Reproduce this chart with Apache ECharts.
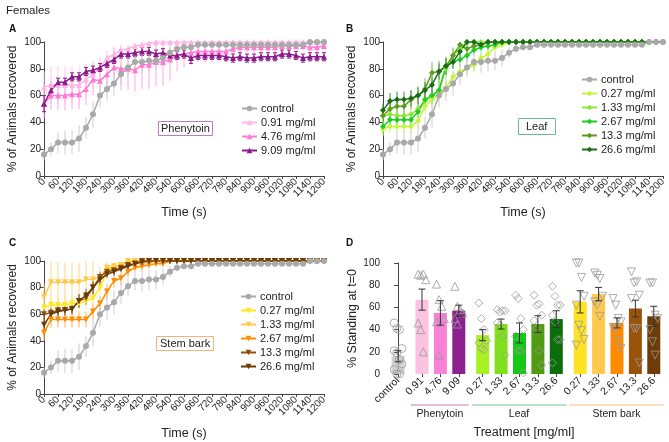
<!DOCTYPE html>
<html><head><meta charset="utf-8">
<script src="https://cdn.jsdelivr.net/npm/echarts@6/dist/echarts.min.js"></script>
<style>html,body{margin:0;padding:0;background:#fff}#c{width:669px;height:442px}</style>
</head><body><div id="c"></div>
<script>
// ---------- DATA ----------
const times = [0,30,60,90,120,150,180,210,240,270,300,330,360,390,420,450,480,510,540,570,600,630,660,690,720,750,780,810,840,870,900,930,960,990,1020,1050,1080,1110,1140,1170,1200];

const ctrlMean = [16,20,25,25,25,28,36,46,60,65,69,76,81,85,85,86,86,88,92,95,96,96,98,98,98,98,98,98,98,98,98,98,98,98,98,98,98,98,100,100,100];
const ctrlErr  = [4,5,8,9,9,10,8,10,9,9,9,8,7,7,8,8,7,6,4,3,2,2,1,1,1,1,1,1,1,1,1,1,1,1,1,1,1,1,0,0,0];

const phen091 = [66,68,68,68,68,68,72,76,81,88,91,94,95,97,98,99,100,100,100,100,100,100,100,100,100,100,100,100,100,100,100,100,100,100,100,100,100,100,100,100,100];
const phen091Err = [12,14,14,14,14,14,12,10,8,6,5,4,3,2,2,1,0,0,0,0,0,0,0,0,0,0,0,0,0,0,0,0,0,0,0,0,0,0,0,0,0];
const phen476 = [54,60,60,60,61,61,65,72,71,76,81,80,80,79,83,83,85,85,87,90,91,92,93,93,93,93,93,95,96,96,96,96,96,96,97,97,97,97,96,96,97];
const phen476Err = [11,11,11,11,11,11,12,12,12,14,15,16,16,16,18,18,18,18,16,12,10,9,8,8,8,7,7,5,4,4,4,4,4,4,3,3,3,3,4,4,3];
const phen909 = [54,64,70,70,74,74,78,79,81,84,87,91,91,92,93,93,91,92,90,90,91,88,90,90,90,90,89,88,89,88,88,89,89,89,91,91,90,88,89,89,89];
const phen909Err = [6,4,3,3,3,3,3,3,3,3,3,3,3,3,3,3,3,3,3,3,3,4,3,3,3,3,3,3,3,3,3,3,3,3,3,3,3,3,3,3,3];

const leaf027 = [35,37,37,37,37,41,52,57,61,66,74,78,80,83,88,91,96,98,100,100,100,100,100,100,100,100,100,100,100,100,100,100,100,100,100,100,100,100,100,100,100];
const leaf027Err = [5,5,5,5,5,5,6,6,6,6,5,5,5,5,4,4,3,2,0,0,0,0,0,0,0,0,0,0,0,0,0,0,0,0,0,0,0,0,0,0,0];
const leaf133 = [45,46,45,45,46,50,56,60,64,80,90,95,100,100,100,100,100,100,100,100,100,100,100,100,100,100,100,100,100,100,100,100,100,100,100,100,100,100,100,100,100];
const leaf133Err = [6,6,6,6,6,6,7,7,7,7,5,4,0,0,0,0,0,0,0,0,0,0,0,0,0,0,0,0,0,0,0,0,0,0,0,0,0,0,0,0,0];
const leaf267 = [37,42,42,42,42,48,57,60,64,82,85,87,90,94,96,97,98,100,100,100,100,100,100,100,100,100,100,100,100,100,100,100,100,100,100,100,100,100,100,100,100];
const leaf267Err = [5,5,5,5,5,5,6,6,6,6,5,5,5,4,3,3,2,0,0,0,0,0,0,0,0,0,0,0,0,0,0,0,0,0,0,0,0,0,0,0,0];
const leaf13 = [45,50,52,52,57,60,65,77,78,82,90,98,95,97,98,100,100,100,100,100,100,100,100,100,100,100,100,100,100,100,100,100,100,100,100,100,100,100,100,100,100];
const leaf13Err = [6,7,7,7,7,7,8,8,8,7,6,2,4,3,2,0,0,0,0,0,0,0,0,0,0,0,0,0,0,0,0,0,0,0,0,0,0,0,0,0,0];
const leaf266 = [49,56,57,57,58,60,64,68,78,82,85,93,100,100,98,100,100,100,100,100,100,100,100,100,100,100,100,100,100,100,100,100,100,100,100,100,100,100,100,100,100];
const leaf266Err = [5,6,6,6,6,6,6,6,6,6,5,4,0,0,2,0,0,0,0,0,0,0,0,0,0,0,0,0,0,0,0,0,0,0,0,0,0,0,0,0,0];

const stem027 = [65,67,67,67,68,68,70,72,80,93,95,97,100,100,100,100,100,100,100,100,100,100,100,100,100,100,100,100,100,100,100,100,100,100,100,100,100,100,100,100,100];
const stem027Err = [6,6,6,6,6,6,6,6,6,4,3,2,0,0,0,0,0,0,0,0,0,0,0,0,0,0,0,0,0,0,0,0,0,0,0,0,0,0,0,0,0];
const stem133 = [73,84,84,84,84,84,86,86,88,95,96,97,100,100,100,100,100,100,100,100,100,100,100,100,100,100,100,100,100,100,100,100,100,100,100,100,100,100,100,100,100];
const stem133Err = [10,15,15,15,15,15,14,14,8,4,3,3,0,0,0,0,0,0,0,0,0,0,0,0,0,0,0,0,0,0,0,0,0,0,0,0,0,0,0,0,0];
const stem267 = [46,56,56,56,56,56,56,62,68,77,85,87,92,95,96,97,98,98,100,100,100,100,100,100,100,100,100,100,100,100,100,100,100,100,100,100,100,100,100,100,100];
const stem267Err = [6,6,6,6,6,6,6,6,6,6,5,5,4,3,3,2,2,2,0,0,0,0,0,0,0,0,0,0,0,0,0,0,0,0,0,0,0,0,0,0,0];
const stem13 = [60,61,63,63,64,70,72,80,88,92,93,95,97,98,100,100,100,100,100,100,100,100,100,100,100,100,100,100,100,100,100,100,100,100,100,100,100,100,100,100,100];
const stem13Err = [5,4,4,4,4,5,5,5,4,3,3,2,2,2,0,0,0,0,0,0,0,0,0,0,0,0,0,0,0,0,0,0,0,0,0,0,0,0,0,0,0];
const stem266 = [52,60,62,63,64,70,74,80,86,90,92,94,96,98,99,100,100,100,100,100,100,100,100,100,100,100,100,100,100,100,100,100,100,100,100,100,100,100,100,100,100];
const stem266Err = [5,4,4,4,4,5,5,5,4,3,3,2,2,2,1,0,0,0,0,0,0,0,0,0,0,0,0,0,0,0,0,0,0,0,0,0,0,0,0,0,0];

// Panel D
const dLabels = ['control','0.91','4.76','9.09','0.27','1.33','2.67','13.3','26.6','0.27','1.33','2.67','13.3','26.6'];
const dGroup  = [0,1,1,1,2,2,2,2,2,3,3,3,3,3];
const dMean   = [16,67,55,57,35,45,37,45,49.5,65,72,46,59,52];
const dSem    = [5,9.5,11,5,5,4.5,9,7.5,7.5,10,6,4.5,7.5,9];
const dPoints = [
  [46,41,40,23,21,19,13,9,4,0,0],
  [90,89,90,85,46,40,20],
  [81,67,61,50,47,17],
  [79,61,58,55,50,45],
  [64,50,40,30,28,23,22],
  [58,56,57,57,46,44,34,17],
  [71,68,50,40,34,21,21,1],
  [71,62,63,53,48,41,21,8],
  [79,70,62,62,53,47,31,31,10],
  [100,100,87,70,62,44,39,31,26],
  [91,89,86,70,65,62,52],
  [68,62,50,47,42,40,30,23],
  [92,82,83,71,68,41,41,10],
  [82,82,53,50,40,29,17]
];
const groupNames = ['Phenytoin','Leaf','Stem bark'];

// ---------- STYLE ----------
const FONT = 'Liberation Sans, Arial, Helvetica, sans-serif';
const dColors = ['#c9c9c9','#fbc2e1','#f981d6','#8e1f8e','#a8f024','#80e01c','#16c816','#4f9b12','#0b6e0b','#ffe224','#ffca4e','#ff8c00','#9b530c','#6f3b07'];
const groupColors = ['#c77ac7','#73c596','#f5c08a'];
const dSymbols = ['circle','triangle','diamond','triangle'];
const dRot = [0,0,0,180];

const chart = echarts.init(document.getElementById('c'), null, {renderer:'canvas'});

function errData(m, e){ return times.map((t,i)=>[t, Math.max(0,m[i]-e[i]), Math.min(100,m[i]+e[i])]); }
function errRender(color, cap){
  return function(params, api){
    const lo = api.coord([api.value(0), api.value(1)]);
    const hi = api.coord([api.value(0), api.value(2)]);
    if (Math.abs(hi[1]-lo[1]) < 0.5) return null;
    const st = {stroke: color, lineWidth: 1};
    const ch = [{type:'line', shape:{x1:lo[0],y1:lo[1],x2:hi[0],y2:hi[1]}, style:st}];
    if (cap) {
      ch.push({type:'line', shape:{x1:lo[0]-cap,y1:lo[1],x2:lo[0]+cap,y2:lo[1]}, style:st});
      ch.push({type:'line', shape:{x1:hi[0]-cap,y1:hi[1],x2:hi[0]+cap,y2:hi[1]}, style:st});
    }
    return {type:'group', children:ch};
  };
}

const series = [];
function addLine(panel, name, mean, err, color, errColor, symbol, rot, cap){
  series.push({type:'custom', xAxisIndex:panel, yAxisIndex:panel, renderItem: errRender(errColor, cap),
    data: errData(mean, err), encode:{x:0,y:[1,2]}, silent:true, z:1});
  series.push({type:'line', name: name, xAxisIndex:panel, yAxisIndex:panel,
    data: times.map((t,i)=>[t, mean[i]]), symbol: symbol, symbolRotate: rot, symbolSize: 6,
    lineStyle:{color:color, width:1.5}, itemStyle:{color:color}, z:3, animation:false});
}
const ctrlColor = '#a9a9a9', ctrlErrColor = '#cdcdcd';
// A
addLine(0,'A|0.91 mg/ml', phen091, phen091Err, '#ffb5e6', '#ffc9ee','triangle',0,0);
addLine(0,'A|4.76 mg/ml', phen476, phen476Err, '#ff7ad3', '#ffa6e2','triangle',0,0);
addLine(0,'A|9.09 mg/ml', phen909, phen909Err, '#8c1a8c', '#8c1a8c','triangle',0,2);
addLine(0,'A|control', ctrlMean, ctrlErr, ctrlColor, ctrlErrColor,'circle',0,0);
// B
addLine(1,'B|0.27 mg/ml', leaf027, leaf027Err, '#c4f53a', '#d6f77a','diamond',0,0);
addLine(1,'B|1.33 mg/ml', leaf133, leaf133Err, '#8fe53a', '#acec74','diamond',0,0);
addLine(1,'B|2.67 mg/ml', leaf267, leaf267Err, '#1fcc1f', '#5fdc5f','diamond',0,0);
addLine(1,'B|13.3 mg/ml', leaf13, leaf13Err, '#5a9f1c', '#80b850','diamond',0,0);
addLine(1,'B|26.6 mg/ml', leaf266, leaf266Err, '#1a6e1a', '#3f8a3f','diamond',0,0);
addLine(1,'B|control', ctrlMean, ctrlErr, ctrlColor, ctrlErrColor,'circle',0,0);
// C
addLine(2,'C|0.27 mg/ml', stem027, stem027Err, '#ffe61e', '#fff07a','triangle',180,0);
addLine(2,'C|1.33 mg/ml', stem133, stem133Err, '#ffc94a', '#ffd77e','triangle',180,0);
addLine(2,'C|2.67 mg/ml', stem267, stem267Err, '#ff8c00', '#ffb055','triangle',180,0);
addLine(2,'C|13.3 mg/ml', stem13, stem13Err, '#8f4e0c', '#a87440','triangle',180,0);
addLine(2,'C|26.6 mg/ml', stem266, stem266Err, '#6b3a06', '#8a6038','triangle',180,0);
addLine(2,'C|control', ctrlMean, ctrlErr, ctrlColor, ctrlErrColor,'circle',0,0);

// D
const GAP = 0.3;
const dPos = dLabels.map((l,i)=> +(i + GAP*dGroup[i]).toFixed(3));
series.push({type:'bar', xAxisIndex:3, yAxisIndex:3, barWidth:13,
  data: dMean.map((v,i)=>({value:[dPos[i], v], itemStyle:{color:dColors[i], opacity: i===0?0.85:1}})), z:2, animation:false});
series.push({type:'custom', xAxisIndex:3, yAxisIndex:3, z:5, silent:true,
  renderItem: errRender('#333', 3.5), encode:{x:0,y:[1,2]},
  data: dMean.map((v,i)=>[dPos[i], v-dSem[i], v+dSem[i]])});
dPoints.forEach((pts,i)=>{
  const g = dGroup[i];
  series.push({type:'scatter', xAxisIndex:3, yAxisIndex:3, z:4, symbol: dSymbols[g], symbolRotate: dRot[g],
    symbolSize: 8,
    itemStyle:{color:'rgba(255,255,255,0)', borderColor:'#9a9a9a', borderWidth:1},
    data: pts.map((v,j)=>[dPos[i] + ((j%4)-1.5)*0.14, v]), animation:false});
});

const axisLineStyle = {lineStyle:{color:'#444', width:1}};
function lineX(i){
  return {type:'value', gridIndex:i, min:0, max:1200, interval:60, name:'Time (s)', nameLocation:'middle',
    nameGap: i===2?33:30, nameTextStyle:{fontSize:12.5, color:'#222', fontFamily:FONT},
    axisLine:{show:true, ...axisLineStyle}, axisTick:{show:true, length:3, lineStyle:{color:'#444'}},
    axisLabel:{rotate:45, fontSize:10, color:'#222', margin:4, fontFamily:FONT, formatter: v => String(v)}, splitLine:{show:false}};
}
function lineY(i){
  return {type:'value', gridIndex:i, min:0, max:100, interval:20, name:'% of Animals recovered', nameLocation:'middle',
    nameGap:25, nameTextStyle:{fontSize:12, color:'#222', fontFamily:FONT},
    axisLine:{show:true, ...axisLineStyle}, axisTick:{show:true, length:4, lineStyle:{color:'#444'}},
    axisLabel:{fontSize:10, color:'#222', margin:3, fontFamily:FONT}, splitLine:{show:false}};
}

function legendFor(panel, left, top, names){
  return {left:left, top:top, orient:'vertical', itemWidth:15, itemHeight:7, itemGap:3,
    data: names.map(n=>panel+'|'+n), formatter: n=>n.split('|')[1],
    textStyle:{fontSize:11, color:'#222', fontFamily:FONT, padding:[0,0,0,-1]}, selectedMode:false};
}

const option = {
  animation:false,
  textStyle:{fontFamily:FONT},
  title:[
    {text:'Females', left:1, top:0, textStyle:{fontSize:11.5, fontWeight:'normal', color:'#222', fontFamily:FONT}},
    {text:'A', left:4, top:19, textStyle:{fontSize:10, fontWeight:'bold', color:'#111', fontFamily:FONT}},
    {text:'B', left:341, top:19, textStyle:{fontSize:10, fontWeight:'bold', color:'#111', fontFamily:FONT}},
    {text:'C', left:4, top:233, textStyle:{fontSize:10, fontWeight:'bold', color:'#111', fontFamily:FONT}},
    {text:'D', left:341, top:233, textStyle:{fontSize:10, fontWeight:'bold', color:'#111', fontFamily:FONT}},
    {text:'Phenytoin', left:158, top:121, padding:[2,3], borderColor:'#c07ac0', borderWidth:1, textStyle:{fontSize:11, fontWeight:'normal', color:'#222', fontFamily:FONT}},
    {text:'Leaf', left:518, top:118, padding:[3,8], borderColor:'#68bd8c', borderWidth:1, textStyle:{fontSize:11, fontWeight:'normal', color:'#222', fontFamily:FONT}},
    {text:'Stem bark', left:156, top:336, padding:[2,4], borderColor:'#f2b478', borderWidth:1, textStyle:{fontSize:11, fontWeight:'normal', color:'#222', fontFamily:FONT}}
  ],
  legend:[
    legendFor('A', 236, 98, ['control','0.91 mg/ml','4.76 mg/ml','9.09 mg/ml']),
    legendFor('B', 576, 69, ['control','0.27 mg/ml','1.33 mg/ml','2.67 mg/ml','13.3 mg/ml','26.6 mg/ml']),
    legendFor('C', 235, 286, ['control','0.27 mg/ml','1.33 mg/ml','2.67 mg/ml','13.3 mg/ml','26.6 mg/ml'])
  ],
  grid:[
    {left:44, top:42, width:280, height:134},
    {left:383, top:42, width:280, height:134},
    {left:44, top:261, width:280, height:133},
    {left:383, top:263, width:282, height:111}
  ],
  xAxis:[lineX(0), lineX(1), lineX(2),
    {type:'value', gridIndex:3, min:-0.82, max:14.51, name:'Treatment [mg/ml]', nameLocation:'middle', nameGap:52,
     nameTextStyle:{fontSize:12.5, color:'#222', fontFamily:FONT},
     axisLine:{show:false}, splitLine:{show:false},
     axisTick:{show:true, length:3, customValues: dPos, lineStyle:{color:'#444'}},
     axisLabel:{show:true, customValues: dPos, rotate:45, fontSize:10.5, color:'#222', margin:5, fontFamily:FONT,
       formatter: v => { const k = dPos.findIndex(p=>Math.abs(p-v)<1e-6); return k>=0 ? dLabels[k] : ''; }}}
  ],
  yAxis:[lineY(0), lineY(1), lineY(2),
    {type:'value', gridIndex:3, min:0, max:100, interval:20, name:'% Standing at t=0', nameLocation:'middle', nameGap:24,
     nameTextStyle:{fontSize:12.5, color:'#222', fontFamily:FONT},
     axisLine:{show:true, ...axisLineStyle}, axisTick:{show:true, length:4, lineStyle:{color:'#444'}},
     axisLabel:{fontSize:10, color:'#222', margin:3, fontFamily:FONT}, splitLine:{show:false}}
  ],
  series: series
};
chart.setOption(option);

// group labels under panel D, positioned through the axis scales
const gfx = [];
groupNames.forEach((name, gi) => {
  const idx = dGroup.map((g,i)=> g===gi+1 ? i : -1).filter(i=>i>=0);
  const x1 = chart.convertToPixel({xAxisIndex:3}, dPos[idx[0]] - 0.6);
  const x2 = chart.convertToPixel({xAxisIndex:3}, dPos[idx[idx.length-1]] + 0.55);
  const y = chart.convertToPixel({yAxisIndex:3}, 0) + 31;
  gfx.push({type:'line', shape:{x1:x1, y1:y, x2:x2, y2:y}, style:{stroke:groupColors[gi], lineWidth:1.2}});
  gfx.push({type:'text', x:(x1+x2)/2, y:y+9, style:{text:name, fontSize:10.5, align:'center', verticalAlign:'middle', fill:'#222', fontFamily:FONT}});
});
chart.setOption({graphic: gfx});
</script></body></html>
